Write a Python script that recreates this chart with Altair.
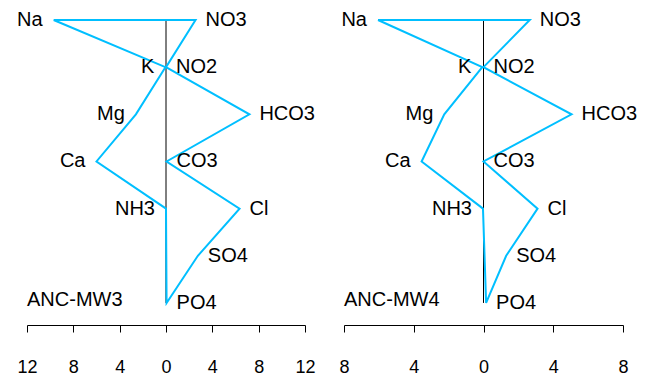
import altair as alt
import pandas as pd

# ---- data (meq/L) ----
cation_names = ["Na", "K", "Mg", "Ca", "NH3"]
anion_names = ["NO3", "NO2", "HCO3", "CO3", "Cl", "SO4", "PO4"]
cation_rows = [1, 2, 3, 4, 5]
anion_rows = [1, 2, 3, 4, 5, 6, 7]

mw3_cations = [9.7, 0.05, 2.6, 6.0, 0.0]
mw3_anions = [2.55, 0.0, 7.2, 0.05, 6.35, 2.75, 0.05]

mw4_cations = [6.05, 0.07, 2.25, 3.55, 0.03]
mw4_anions = [2.65, 0.0, 5.05, 0.0, 3.1, 1.3, 0.15]

panels = [
    ("ANC-MW3", mw3_cations, mw3_anions, 12, 278),
    ("ANC-MW4", mw4_cations, mw4_anions, 8, 279),
]

LINE_COLOR = "#00BFFF"
FONT = "Liberation Sans"


def make_panel(name, cats, ans, lim, width):
    path = []
    order = 0
    path.append({"x": -cats[0], "row": cation_rows[0], "o": order}); order += 1
    for nm, r, v in zip(anion_names, anion_rows, ans):
        path.append({"x": v, "row": r, "o": order}); order += 1
    for nm, r, v in reversed(list(zip(cation_names, cation_rows, cats))):
        path.append({"x": -v, "row": r, "o": order}); order += 1
    df_path = pd.DataFrame(path)

    df_cat = pd.DataFrame({"name": cation_names, "row": cation_rows,
                           "x": [-v for v in cats]})
    df_an = pd.DataFrame({"name": anion_names, "row": anion_rows, "x": ans})

    xscale = alt.Scale(domain=[-lim, lim], nice=False, zero=False)
    yscale = alt.Scale(domain=[0.83, 7.468], reverse=True, nice=False, zero=False)

    ticks = list(range(-lim, lim + 1, 2))
    xaxis = alt.Axis(values=ticks, title=None, grid=False,
                     labelExpr="datum.value % 4 == 0 ? abs(datum.value) : ''",
                     labelFlush=False, labelOverlap=False)

    rule = alt.Chart(pd.DataFrame({"a": [0]})).mark_rule(
        color="black", strokeWidth=1
    ).encode(
        x=alt.datum(0, scale=xscale, axis=xaxis),
        y=alt.datum(1, scale=yscale, axis=None),
        y2=alt.datum(7),
    )

    line = alt.Chart(df_path).mark_line(
        color=LINE_COLOR, strokeWidth=2
    ).encode(
        x=alt.X("x:Q", scale=xscale, axis=xaxis),
        y=alt.Y("row:Q", scale=yscale, axis=None),
        order="o:Q",
    )

    tcat = alt.Chart(df_cat).mark_text(
        align="right", baseline="middle", dx=-11, fontSize=20, font=FONT, color="black"
    ).encode(x=alt.X("x:Q", scale=xscale), y=alt.Y("row:Q", scale=yscale), text="name:N")

    tan = alt.Chart(df_an).mark_text(
        align="left", baseline="middle", dx=10, fontSize=20, font=FONT, color="black"
    ).encode(x=alt.X("x:Q", scale=xscale), y=alt.Y("row:Q", scale=yscale), text="name:N")

    title = alt.Chart(pd.DataFrame({"t": [name]})).mark_text(
        align="left", baseline="middle", fontSize=20, font=FONT, color="black"
    ).encode(x=alt.value(0), y=alt.datum(6.93, scale=yscale), text="t:N")

    return alt.layer(rule, line, tcat, tan, title).properties(width=width, height=313)


charts = [make_panel(*p) for p in panels]

chart = alt.hconcat(*charts, spacing=39, bounds="flush").properties(
    padding={"left": 8, "top": 2, "right": 0, "bottom": 0}
).configure_view(stroke=None).configure_axis(
    domainColor="black", tickColor="black", labelColor="black",
    labelFont=FONT, labelFontSize=18, tickSize=7, labelPadding=26,
    domainWidth=1, tickWidth=1,
)

chart.save("out.html", embed_options={"renderer": "svg", "actions": False})
